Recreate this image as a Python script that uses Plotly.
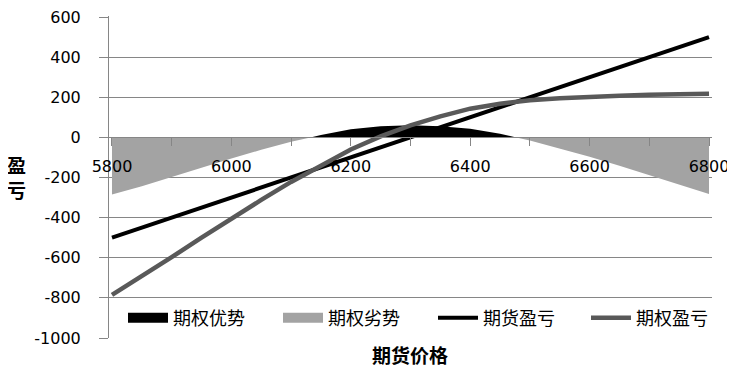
import plotly.graph_objects as go

# ---- data ----
price = [5800, 5850, 5900, 5950, 6000, 6050, 6100, 6150, 6200, 6250, 6300,
         6350, 6400, 6450, 6500, 6550, 6600, 6650, 6700, 6750, 6800]
futures_pl = [-500, -450, -400, -350, -300, -250, -200, -150, -100, -50, 0,
              50, 100, 150, 200, 250, 300, 350, 400, 450, 500]
option_pl = [-785, -693, -597, -500, -405, -312, -222, -138, -60, 5, 60,
             105, 143, 168, 185, 195, 203, 208, 212, 215, 218]
xticks = [5800, 6000, 6200, 6400, 6600, 6800]
yticks = [-1000, -800, -600, -400, -200, 0, 200, 400, 600]
names = ["期权优势", "期权劣势", "期货盈亏", "期权盈亏"]

# advantage (option minus futures), split at zero crossings
adv = [o - f for o, f in zip(option_pl, futures_pl)]
xs, pos, neg = [], [], []
for i in range(len(price)):
    if i > 0 and (adv[i - 1] > 0) != (adv[i] > 0):
        t = adv[i - 1] / (adv[i - 1] - adv[i])
        xc = price[i - 1] + t * (price[i] - price[i - 1])
        xs.append(xc); pos.append(0); neg.append(0)
    xs.append(price[i])
    pos.append(max(adv[i], 0))
    neg.append(min(adv[i], 0))

# page body has an 8px margin; size figure so plot area lands where reference has it
W, H = 727, 360
L, R, T, B = 101, 23, 8, 30
PW = W - L - R
PH = H - T - B
OFF = 8


def px_x(sx):
    return (sx - OFF - L) / PW


def px_y(sy):
    return (H - B - (sy - OFF)) / PH


fig = go.Figure()
fig.add_trace(go.Scatter(x=xs, y=pos, name=names[0], mode="lines", showlegend=False,
                         legendgroup="a", line=dict(width=0, color="#000000"),
                         fill="tozeroy", fillcolor="#000000"))
fig.add_trace(go.Scatter(x=xs, y=neg, name=names[1], mode="lines", showlegend=False,
                         legendgroup="b", line=dict(width=0, color="#a3a3a3"),
                         fill="tozeroy", fillcolor="#a3a3a3"))
fig.add_trace(go.Scatter(x=price, y=futures_pl, name=names[2], mode="lines",
                         legend="legend3", line=dict(width=4, color="#000000")))
fig.add_trace(go.Scatter(x=price, y=option_pl, name=names[3], mode="lines",
                         legend="legend4", line=dict(width=4.5, color="#595959")))
# legend swatches for the two area series (box-shaped keys)
fig.add_trace(go.Scatter(x=[None], y=[None], name=names[0], mode="lines", legendgroup="a",
                         legend="legend", line=dict(width=12, color="#000000")))
fig.add_trace(go.Scatter(x=[None], y=[None], name=names[1], mode="lines", legendgroup="b",
                         legend="legend2", line=dict(width=12, color="#a3a3a3")))

grid = "#868686"
leg_common = dict(orientation="h", xanchor="left", yanchor="middle", y=px_y(318),
                  bgcolor="rgba(0,0,0,0)", itemwidth=40,
                  font=dict(family="Noto Sans CJK SC", size=18))
fig.update_layout(
    width=W, height=H,
    margin=dict(l=L, r=R, t=T, b=B, autoexpand=False),
    paper_bgcolor="white", plot_bgcolor="white",
    font=dict(family="DejaVu Sans", size=16, color="#000000"),
    showlegend=True,
    legend=dict(x=px_x(123), **leg_common),
    legend2=dict(x=px_x(278), **leg_common),
    legend3=dict(x=px_x(433), **leg_common),
    legend4=dict(x=px_x(586), **leg_common),
    xaxis=dict(range=[5795, 6805], tickvals=xticks, ticktext=[str(v) for v in xticks],
               anchor="free", position=1000 / 1605, showgrid=False, automargin=False,
               showline=True, linecolor=grid, linewidth=1,
               ticks="outside", ticklen=8, tickcolor=grid,
               ticklabelstandoff=6, ticklabeloverflow="allow",
               minor=dict(tickvals=[5900, 6000, 6100, 6200, 6300, 6400, 6500, 6600, 6700, 6800],
                          ticks="outside", ticklen=8, tickcolor=grid),
               zeroline=False, fixedrange=True),
    yaxis=dict(range=[-1000, 605], tickvals=yticks, ticktext=[str(v) for v in yticks],
               showgrid=True, gridcolor=grid, ticklabeloverflow="allow",
               gridwidth=1, showline=True, linecolor=grid, linewidth=1, automargin=False,
               ticks="outside", ticklen=9, tickcolor=grid, ticklabelstandoff=15,
               zeroline=False, fixedrange=True),
    annotations=[
        dict(text="<b>盈</b><br><b>亏</b>", xref="paper", yref="paper",
             x=px_x(16), y=px_y(177), showarrow=False,
             font=dict(family="Noto Sans CJK SC", size=19), xanchor="center", yanchor="middle"),
        dict(text="<b>期货价格</b>", xref="paper", yref="paper",
             x=px_x(410), y=px_y(354), showarrow=False,
             font=dict(family="Noto Sans CJK SC", size=19), xanchor="center", yanchor="middle"),
    ],
)
fig.write_html("out.html")
